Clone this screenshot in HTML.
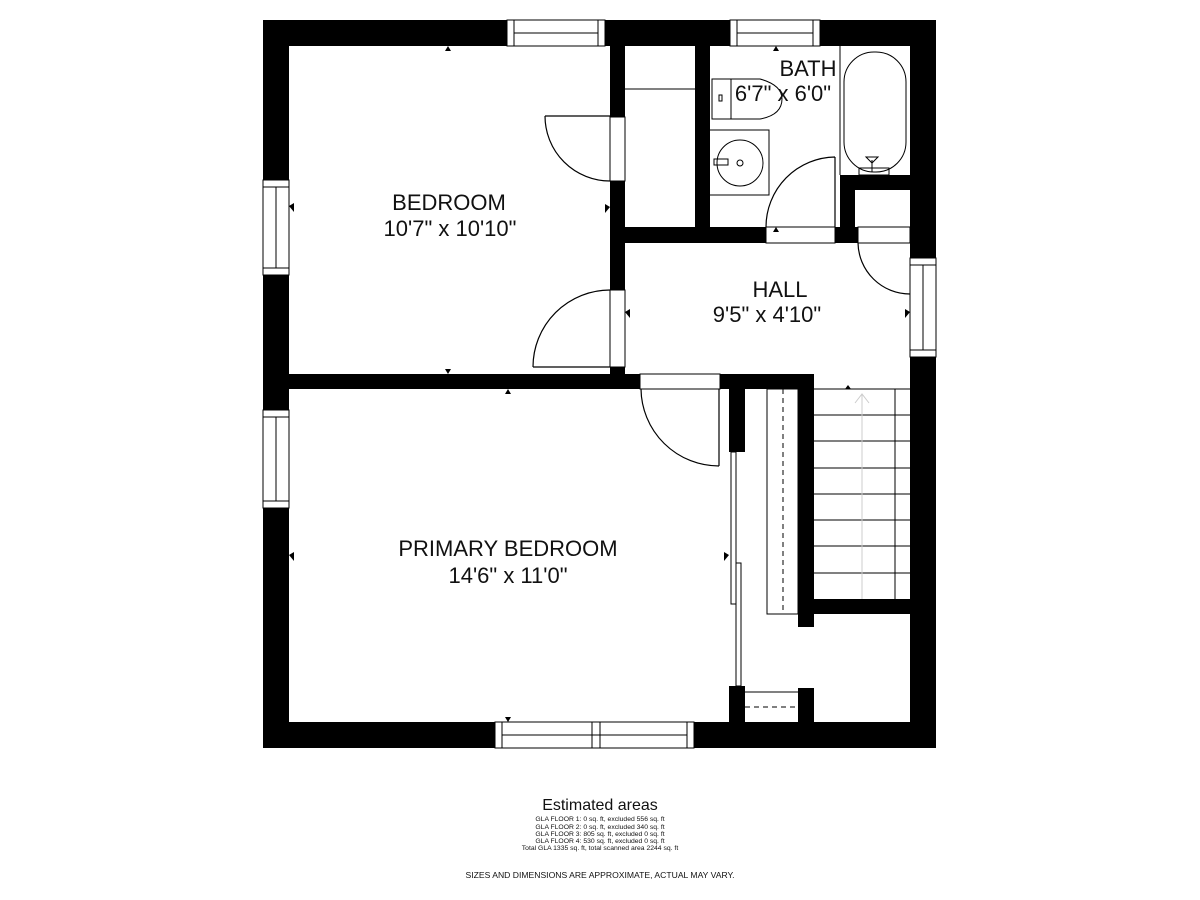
<!DOCTYPE html>
<html><head><meta charset="utf-8"><style>
html,body{margin:0;padding:0;background:#fff;}
svg{display:block;}
text{font-family:"Liberation Sans",sans-serif;fill:#111;}
</style></head><body>
<svg width="1200" height="900" viewBox="0 0 1200 900" xmlns="http://www.w3.org/2000/svg">
<rect width="1200" height="900" fill="#fff"/>
<g fill="#000">
<rect x="263" y="20" width="673" height="26"/>
<rect x="263" y="20" width="26" height="728"/>
<rect x="910" y="20" width="26" height="728"/>
<rect x="263" y="722" width="673" height="26"/>
<rect x="610" y="20" width="15" height="369"/>
<rect x="695" y="20" width="15" height="223"/>
<rect x="625" y="227" width="285" height="16"/>
<rect x="840" y="175" width="70" height="15"/>
<rect x="840" y="175" width="15" height="68"/>
<rect x="263" y="374" width="377" height="15"/>
<rect x="720" y="374" width="94" height="15"/>
<rect x="729" y="374" width="16" height="78"/>
<rect x="729" y="686" width="16" height="40"/>
<rect x="798" y="374" width="16" height="253"/>
<rect x="798" y="688" width="16" height="40"/>
<rect x="814" y="599" width="96" height="15"/>
</g>
<g fill="#fff" stroke="#000" stroke-width="1">
<rect x="507" y="20" width="98" height="26"/>
<line x1="514" y1="20" x2="514" y2="46"/><line x1="598" y1="20" x2="598" y2="46"/><line x1="514" y1="33" x2="598" y2="33"/>
<rect x="730" y="20" width="90" height="26"/>
<line x1="737" y1="20" x2="737" y2="46"/><line x1="813" y1="20" x2="813" y2="46"/><line x1="737" y1="33" x2="813" y2="33"/>
<rect x="263" y="180" width="26" height="95"/>
<line x1="263" y1="187" x2="289" y2="187"/><line x1="263" y1="268" x2="289" y2="268"/><line x1="276" y1="187" x2="276" y2="268"/>
<rect x="263" y="410" width="26" height="98"/>
<line x1="263" y1="417" x2="289" y2="417"/><line x1="263" y1="501" x2="289" y2="501"/><line x1="276" y1="417" x2="276" y2="501"/>
<rect x="910" y="258" width="26" height="99"/>
<line x1="910" y1="265" x2="936" y2="265"/><line x1="910" y1="350" x2="936" y2="350"/><line x1="923" y1="265" x2="923" y2="350"/>
<rect x="495" y="722" width="199" height="26"/>
<line x1="502" y1="722" x2="502" y2="748"/><line x1="687" y1="722" x2="687" y2="748"/>
<line x1="502" y1="735" x2="687" y2="735"/>
<line x1="592" y1="722" x2="592" y2="748"/><line x1="600" y1="722" x2="600" y2="748"/>
</g>
<g fill="#fff" stroke="#000" stroke-width="1">
<rect x="610" y="117" width="15" height="64"/>
<rect x="610" y="290" width="15" height="77"/>
<rect x="640" y="374" width="80" height="15"/>
<rect x="766" y="227" width="69" height="16"/>
<rect x="858" y="227" width="52" height="16"/>
</g>
<g fill="none" stroke="#000" stroke-width="1.2">
<path d="M545 116 L610 116 M545 116 A65 65 0 0 0 610 181"/>
<path d="M533 367 L610 367 M610 290 A77 77 0 0 0 533 367"/>
<path d="M719 389 L719 466 M641 389 A78 78 0 0 0 719 466"/>
<path d="M835 157 L835 227 M835 157 A70 70 0 0 0 766 227"/>
<path d="M858 243 A52 52 0 0 0 910 294"/>
</g>
<g fill="none" stroke="#000" stroke-width="1">
<line x1="625" y1="89" x2="695" y2="89"/>
<rect x="712" y="79" width="19" height="40"/>
<path d="M731 79 L760 79 Q782 85 782 99 Q782 115 760 119 L731 119"/>
<rect x="719" y="95" width="3" height="6"/>
<path d="M710 130 L769 130 L769 195 L710 195"/>
<circle cx="740" cy="163" r="23"/>
<rect x="714" y="159" width="14" height="6"/>
<circle cx="740" cy="163" r="3"/>
<line x1="840" y1="46" x2="840" y2="175"/>
<rect x="844" y="52" width="62" height="120" rx="30" ry="30"/>
<path d="M872 172 L872 160 M866 157 L878 157 L872 163 Z"/>
<rect x="859" y="168" width="30" height="7"/>
<rect x="767" y="389" width="31" height="225"/>
<line x1="783" y1="389" x2="783" y2="614" stroke-dasharray="5,4"/>
<line x1="745" y1="692" x2="798" y2="692"/>
<line x1="745" y1="707" x2="798" y2="707" stroke-dasharray="5,4"/>
<rect x="731" y="452" width="5" height="152"/>
<rect x="736" y="563" width="5" height="123"/>
<line x1="814" y1="389" x2="910" y2="389"/>
<line x1="814" y1="415" x2="910" y2="415"/>
<line x1="814" y1="441" x2="910" y2="441"/>
<line x1="814" y1="468" x2="910" y2="468"/>
<line x1="814" y1="494" x2="910" y2="494"/>
<line x1="814" y1="520" x2="910" y2="520"/>
<line x1="814" y1="546" x2="910" y2="546"/>
<line x1="814" y1="573" x2="910" y2="573"/>
<line x1="895" y1="389" x2="895" y2="599"/>
<line x1="862" y1="395" x2="862" y2="599" stroke="#ccc"/>
<path d="M855 403 L862 394 L869 403" stroke="#ccc"/>
</g>
<g fill="#000">
<path d="M445 51 L451 51 L448 46Z"/><path d="M445 369 L451 369 L448 374Z"/>
<path d="M289 206 L294 203 L294 212Z"/><path d="M610 207 L605 204 L605 213Z"/>
<path d="M625 312 L630 309 L630 318Z"/><path d="M910 312 L905 309 L905 318Z"/>
<path d="M505 394 L511 394 L508 389Z"/><path d="M505 717 L511 717 L508 722Z"/>
<path d="M289 555 L294 552 L294 561Z"/><path d="M729 555 L724 552 L724 561Z"/>
<path d="M773 51 L779 51 L776 46Z"/><path d="M773 232 L779 232 L776 227Z"/>
<path d="M845 389 L851 389 L848 385Z"/>
<path d="M848 243 L854 243 L851 239Z"/>
</g>
<g text-anchor="middle" font-size="22">
<text x="449" y="210">BEDROOM</text>
<text x="450" y="236">10'7" x 10'10"</text>
<text x="780" y="297">HALL</text>
<text x="767" y="322">9'5" x 4'10"</text>
<text x="808" y="76">BATH</text>
<text x="783" y="101">6'7" x 6'0"</text>
<text x="508" y="556">PRIMARY BEDROOM</text>
<text x="508" y="583">14'6" x 11'0"</text>
</g>
<g text-anchor="middle" fill="#222">
<text x="600" y="810" font-size="16">Estimated areas</text>
<text x="600" y="821" font-size="6.8">GLA FLOOR 1: 0 sq. ft, excluded 556 sq. ft</text>
<text x="600" y="829" font-size="6.8">GLA FLOOR 2: 0 sq. ft, excluded 340 sq. ft</text>
<text x="600" y="836" font-size="6.8">GLA FLOOR 3: 805 sq. ft, excluded 0 sq. ft</text>
<text x="600" y="843" font-size="6.8">GLA FLOOR 4: 530 sq. ft, excluded 0 sq. ft</text>
<text x="600" y="850" font-size="6.8">Total GLA 1335 sq. ft, total scanned area 2244 sq. ft</text>
<text x="600" y="878" font-size="8.6">SIZES AND DIMENSIONS ARE APPROXIMATE, ACTUAL MAY VARY.</text>
</g>
</svg>
</body></html>
